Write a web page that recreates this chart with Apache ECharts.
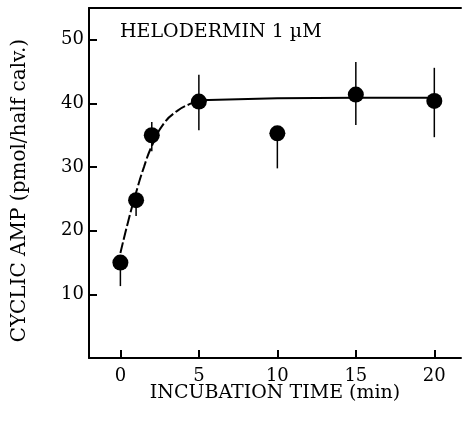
<!DOCTYPE html>
<html><head><meta charset="utf-8">
<script src="https://cdn.jsdelivr.net/npm/echarts@6/dist/echarts.min.js"></script>
<style>html,body{margin:0;padding:0;background:#fff}#c{width:463px;height:422px}</style>
</head><body><div id="c"></div><script>
// Measured points
const timeMin = [0, 1, 2, 5, 10, 15, 20];
const cAMP = [15.0, 24.8, 35.0, 40.3, 35.3, 41.4, 40.4];
const errLow = [11.3, 22.3, 32.5, 35.8, 29.8, 36.6, 34.7];
const errHigh = [15.0, 24.8, 37.1, 44.5, 35.3, 46.5, 45.6];
// Fitted curve (dashed rising part, flat plateau)
const riseT = [0, 0.5, 1, 1.5, 2, 2.75, 3.6, 4.4, 5];
const riseY = [16.5, 21.5, 26.0, 30.0, 33.3, 36.8, 38.8, 39.9, 40.5];
const plateauT = [5, 10, 15, 20];
const plateauY = [40.5, 40.8, 40.9, 40.9];
// Tick labels
const xTicks = [0, 5, 10, 15, 20];
const yTicks = [10, 20, 30, 40, 50];
const titleText = 'HELODERMIN 1 \u00b5M';
const xName = 'INCUBATION TIME (min)';
const yName = 'CYCLIC AMP (pmol/half calv.)';

const FONT = 'DejaVu Serif';
const chart = echarts.init(document.getElementById('c'), null, {renderer: 'canvas'});
const zip = (a, b) => a.map((v, i) => [v, b[i]]);

chart.setOption({
  animation: false,
  backgroundColor: '#fff',
  grid: {left: 89, top: 8, width: 372, height: 350, containLabel: false},
  xAxis: [{
    type: 'value', min: -2, max: 21.7, position: 'bottom',
    axisLine: {show: true, onZero: false, lineStyle: {color: '#000', width: 2}},
    axisTick: {show: true, inside: true, length: 8, customValues: xTicks, lineStyle: {color: '#000', width: 2}},
    axisLabel: {show: true, customValues: xTicks, margin: 9, color: '#000', fontFamily: FONT, fontSize: 18},
    splitLine: {show: false}
  }, {
    type: 'value', min: -2, max: 21.7, position: 'top',
    axisLine: {show: true, onZero: false, lineStyle: {color: '#000', width: 2}},
    axisTick: {show: false}, axisLabel: {show: false}, splitLine: {show: false}
  }],
  yAxis: {
    type: 'value', min: 0, max: 55, interval: 10, position: 'left',
    axisLine: {show: true, onZero: false, lineStyle: {color: '#000', width: 2}},
    axisTick: {show: true, inside: true, length: 8, customValues: yTicks, lineStyle: {color: '#000', width: 2}},
    axisLabel: {show: true, customValues: yTicks, margin: 5, color: '#000', fontFamily: FONT, fontSize: 18},
    splitLine: {show: false}
  },
  graphic: [
    {type: 'text', left: 120, top: 23, style: {text: titleText, fill: '#000', font: '19px "DejaVu Serif"'}},
    {type: 'text', x: 275, y: 393, style: {text: xName, fill: '#000', font: '19px "DejaVu Serif"', align: 'center', verticalAlign: 'middle'}},
    {type: 'text', x: 20, y: 190.5, rotation: Math.PI / 2, style: {text: yName, fill: '#000', font: '20px "DejaVu Serif"', align: 'center', verticalAlign: 'middle'}}
  ],
  series: [
    {type: 'line', xAxisIndex: 0, data: zip(riseT, riseY), smooth: true, symbol: 'none',
     lineStyle: {color: '#000', width: 2, type: [11, 3]}, z: 1},
    {type: 'line', xAxisIndex: 0, data: zip(plateauT, plateauY), symbol: 'none',
     lineStyle: {color: '#000', width: 2}, z: 1},
    {type: 'custom', xAxisIndex: 0, z: 2,
     data: timeMin.map((t, i) => [t, errLow[i], errHigh[i]]),
     encode: {x: 0, y: [1, 2]},
     renderItem: (params, api) => {
       const p1 = api.coord([api.value(0), api.value(1)]);
       const p2 = api.coord([api.value(0), api.value(2)]);
       return {type: 'line', shape: {x1: p1[0], y1: p1[1], x2: p2[0], y2: p2[1]},
               style: {stroke: '#000', lineWidth: 1.5}};
     }},
    {type: 'scatter', xAxisIndex: 0, data: zip(timeMin, cAMP), symbol: 'circle', symbolSize: 16,
     itemStyle: {color: '#000', opacity: 1}, z: 3}
  ]
});
</script></body></html>
